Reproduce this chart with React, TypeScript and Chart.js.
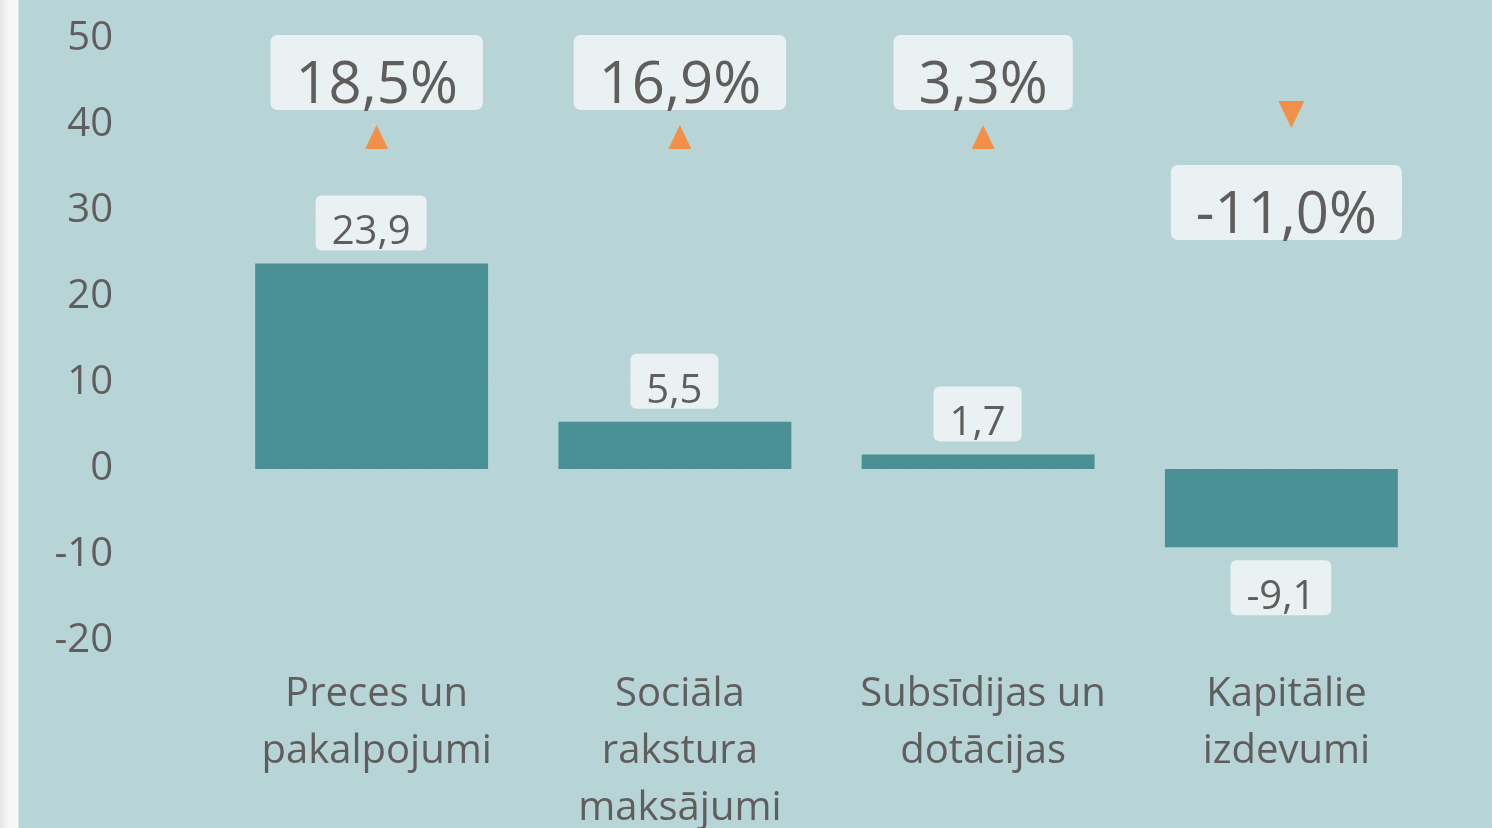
import React, { useEffect, useRef } from "react";
import { Chart, registerables } from "chart.js";

Chart.register(...registerables);

// ---- data ----
const categories: string[][] = [
  ["Preces un", "pakalpojumi"],
  ["Sociāla", "rakstura", "maksājumi"],
  ["Subsīdijas un", "dotācijas"],
  ["Kapitālie", "izdevumi"],
];
const values: number[] = [23.9, 5.5, 1.7, -9.1];
const changePct: number[] = [18.5, 16.9, 3.3, -11.0];
const yTicks: number[] = [-20, -10, 0, 10, 20, 30, 40, 50];

// ---- style ----
const FONT = "'Open Sans', 'Noto Sans', sans-serif";
const TEXT = "#605e5c";
const BAR = "#4a9094";
const BOX = "#e9f1f2";
const ORANGE = "#f2904a";
const GRID = "#d8d0cc";

const fmt = (v: number) => v.toFixed(1).replace(".", ",");

const overlay = {
  id: "overlay",
  beforeDatasetsDraw(chart: any) {
    const ctx: CanvasRenderingContext2D = chart.ctx;
    const ys = chart.scales.y;
    ctx.save();
    ctx.strokeStyle = GRID;
    ctx.lineWidth = 2;
    ctx.setLineDash([2, 10]);
    yTicks.forEach((v) => {
      const y = Math.round(ys.getPixelForValue(v));
      ctx.beginPath();
      ctx.moveTo(133, y);
      ctx.lineTo(chart.width, y);
      ctx.stroke();
    });
    ctx.restore();
  },
  afterDatasetsDraw(chart: any) {
    const ctx: CanvasRenderingContext2D = chart.ctx;
    const xs = chart.scales.x;
    const ys = chart.scales.y;
    const meta = chart.getDatasetMeta(0);
    ctx.save();
    // value labels
    ctx.font = `40px ${FONT}`;
    ctx.textAlign = "center";
    ctx.textBaseline = "alphabetic";
    meta.data.forEach((el: any, i: number) => {
      const v = values[i];
      const txt = fmt(v);
      const w = ctx.measureText(txt).width + 32;
      const h = 55;
      const cx = el.x - 0.5;
      let top: number;
      if (v >= 0) top = el.y - 13 - h;
      else top = el.y + 13;
      ctx.fillStyle = BOX;
      ctx.beginPath();
      ctx.roundRect(cx - w / 2, top, w, h, 6);
      ctx.fill();
      ctx.fillStyle = TEXT;
      ctx.fillText(txt, cx, top + h - 6);
    });
    // change % labels + triangles
    const y40 = ys.getPixelForValue(40);
    changePct.forEach((p, i) => {
      const cx = xs.getPixelForValue(i) + 5;
      const txt = fmt(p) + "%";
      ctx.font = `58px ${FONT}`;
      const w = ctx.measureText(txt).width + 50;
      const h = 75;
      let boxTop: number;
      ctx.fillStyle = ORANGE;
      ctx.beginPath();
      if (p >= 0) {
        boxTop = chart.chartArea.top - 4;
        ctx.moveTo(cx, y40);
        ctx.lineTo(cx + 11.5, y40 + 24);
        ctx.lineTo(cx - 11.5, y40 + 24);
      } else {
        boxTop = y40 + 40;
        const tx = cx + 5;
        ctx.moveTo(tx - 13, y40 - 24);
        ctx.lineTo(tx + 13, y40 - 24);
        ctx.lineTo(tx, y40 + 3);
      }
      ctx.closePath();
      ctx.fill();
      ctx.fillStyle = BOX;
      ctx.beginPath();
      ctx.roundRect(cx - w / 2, boxTop, w, h, 7);
      ctx.fill();
      ctx.fillStyle = TEXT;
      ctx.fillText(txt, cx, boxTop + h - 7);
    });
    ctx.restore();
  },
};

export default function App() {
  const ref = useRef<HTMLCanvasElement>(null);
  useEffect(() => {
    if (!ref.current) return;
    const chart = new Chart(ref.current, {
      type: "bar",
      data: {
        labels: categories as any,
        datasets: [
          {
            data: values,
            backgroundColor: BAR,
            borderWidth: 0,
            categoryPercentage: 1,
            barPercentage: 0.768,
          },
        ],
      },
      options: {
        responsive: false,
        animation: false,
        devicePixelRatio: 1,
        layout: { padding: { left: 0, right: 59, top: 39, bottom: 16 } },
        plugins: { legend: { display: false }, tooltip: { enabled: false } },
        scales: {
          x: {
            type: "category",
            offset: true,
            grid: { display: false, drawTicks: false },
            border: { display: false },
            ticks: {
              color: TEXT,
              font: { family: FONT, size: 40, lineHeight: 1.425 },
              padding: 25,
              labelOffset: 5,
              maxRotation: 0,
              autoSkip: false,
            },
          },
          y: {
            min: -20,
            max: 50,
            afterBuildTicks: (s: any) => {
              s.ticks = yTicks.map((v) => ({ value: v }));
            },
            afterFit: (s: any) => {
              s.width = 220;
              s.paddingTop = 0;
              s.paddingBottom = 0;
            },
            grid: { display: false, drawTicks: false },
            border: { display: false },
            ticks: {
              color: TEXT,
              font: { family: FONT, size: 40 },
              padding: 107,
              callback: (v: any) => String(v),
            },
          },
        },
      },
      plugins: [overlay],
    });
    return () => chart.destroy();
  }, []);
  return (
    <div
      style={{
        position: "fixed",
        left: 0,
        top: 0,
        width: 1492,
        height: 828,
        overflow: "hidden",
        background:
          "linear-gradient(to right, #e4e4e4 0px, #f6f6f6 8px, #f8f8f8 18px, #b7d5d7 19px)",
      }}
    >
      <canvas ref={ref} width={1492} height={878} style={{ display: "block" }} />
    </div>
  );
}
